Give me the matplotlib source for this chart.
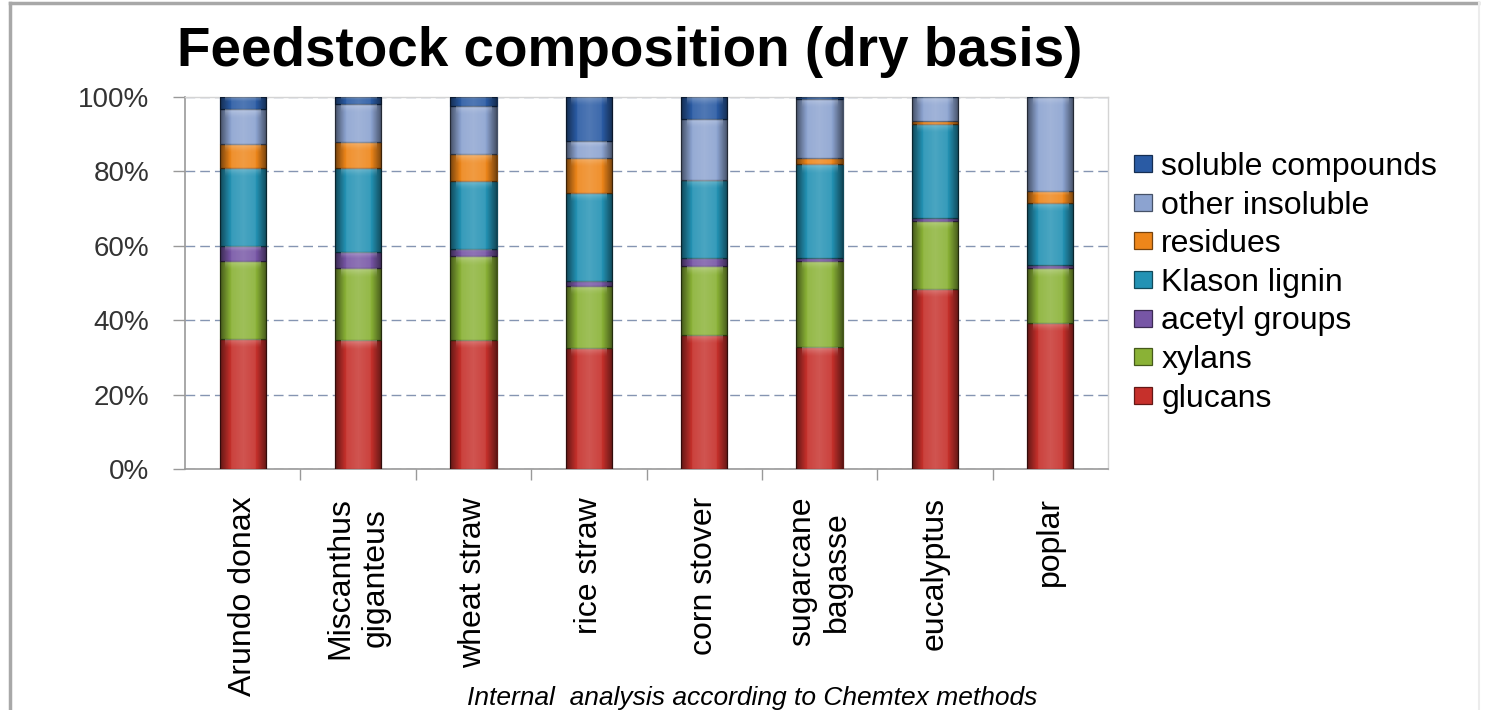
import matplotlib.pyplot as plt
import numpy as np
from matplotlib.lines import Line2D

plt.rcParams['font.family'] = ['Liberation Sans', 'DejaVu Sans']

# feedstocks
feedstocks = ['Arundo donax', 'Miscanthus\ngiganteus', 'wheat straw', 'rice straw',
              'corn stover', 'sugarcane\nbagasse', 'eucalyptus', 'poplar']

# composition, % dry basis (bottom to top)
glucans = [35.0, 34.6, 34.8, 32.5, 36.1, 32.7, 48.4, 39.3]
xylans = [21.0, 19.3, 22.4, 16.8, 18.4, 23.2, 18.3, 14.6]
acetyl_groups = [4.0, 4.4, 2.0, 1.2, 2.3, 0.9, 0.9, 0.9]
klason_lignin = [21.0, 22.6, 18.2, 23.8, 20.9, 25.1, 25.1, 16.8]
residues = [6.4, 7.1, 7.2, 9.4, 0.0, 1.8, 0.9, 3.2]
other_insoluble = [9.3, 10.1, 13.1, 4.5, 16.5, 15.8, 6.4, 25.2]
soluble_compounds = [3.3, 1.9, 2.3, 11.8, 5.8, 0.4, 0.0, 0.0]

series = [
    ('glucans', glucans, '#C6302B'),
    ('xylans', xylans, '#8AB236'),
    ('acetyl groups', acetyl_groups, '#7756A6'),
    ('Klason lignin', klason_lignin, '#2392B4'),
    ('residues', residues, '#EE861A'),
    ('other insoluble', other_insoluble, '#8CA3D0'),
    ('soluble compounds', soluble_compounds, '#2A5BA4'),
]

fig = plt.figure(figsize=(14.85, 7.1), dpi=100)
ax = fig.add_axes([185 / 1485, 1 - 469 / 710, 923 / 1485, 372 / 710])

x = np.arange(len(feedstocks))
width = 0.4
bottom = np.zeros(len(feedstocks))

# horizontal shading for the bevelled look
t = np.linspace(0, 1, 64)
d = np.abs(2 * t - 1)
shade = np.zeros((1, len(t), 4))
dark = np.clip((d - 0.55) / 0.45, 0, 1) * 0.5
light = (1 - d) * 0.18
shade[0, :, :3] = np.where(dark[:, None] > 0, 0.0, 1.0)
shade[0, :, 3] = np.where(dark > 0, dark, light)

# light band along the top of each segment
gloss = np.ones((32, 1, 4))
gloss[:, 0, 3] = np.linspace(0.45, 0.0, 32) ** 1.5

handles = []
for name, vals, color in series:
    vals = np.array(vals)
    edge = tuple(c * 0.5 for c in plt.matplotlib.colors.to_rgb(color))
    bars = ax.bar(x, vals, width, bottom=bottom, color=color, edgecolor=edge,
                  linewidth=0.9, zorder=3, label=name)
    for b in bars:
        h = b.get_height()
        if h <= 0:
            continue
        x0, y0, w = b.get_x(), b.get_y(), b.get_width()
        im = ax.imshow(shade, extent=[x0, x0 + w, y0, y0 + h],
                       aspect='auto', zorder=4, interpolation='bilinear')
        im.set_clip_path(b)
        gh = min(2.5, 0.4 * h)
        g = ax.imshow(gloss, extent=[x0 + 0.12 * w, x0 + 0.88 * w, y0 + h - gh, y0 + h],
                      aspect='auto', zorder=5, interpolation='bilinear', origin='upper')
        g.set_clip_path(b)
    bottom += vals
    handles.append(bars)

ax.set_xlim(-0.5, len(feedstocks) - 0.5)
ax.set_ylim(0, 100)
ax.set_yticks([0, 20, 40, 60, 80, 100])
ax.set_yticklabels([f'{v}%' for v in range(0, 101, 20)])
ax.set_xticks(x)
ax.set_xticklabels(feedstocks, rotation=90, fontsize=23, multialignment='center',
                   linespacing=1.25)
ax.set_xticks(np.arange(0.5, len(feedstocks) - 0.5, 1), minor=True)

ax.tick_params(axis='x', which='major', length=0, pad=20)
ax.tick_params(axis='x', which='minor', length=8, width=1, color='#999999')
ax.tick_params(axis='y', length=9, width=1, color='#999999', pad=16.5,
               labelsize=20, labelcolor='#333333')

for s in ['top', 'right']:
    ax.spines[s].set_color('#d4d4d4')
    ax.spines[s].set_linewidth(1)
for s in ['left', 'bottom']:
    ax.spines[s].set_color('#999999')
    ax.spines[s].set_linewidth(1.2)

ax.yaxis.grid(True, linestyle=(0, (7, 3.6)), color='#8595b2', linewidth=1, zorder=0)
ax.set_axisbelow(True)

# legend, top entry first
leg = ax.legend(handles[::-1], [s[0] for s in series[::-1]],
                loc='upper left', bbox_to_anchor=(1134 / 1485, 1 - 152 / 710),
                bbox_transform=fig.transFigure, frameon=False, fontsize=23,
                handlelength=0.55, handleheight=0.45, handletextpad=0.3,
                labelspacing=0.27, borderpad=0, borderaxespad=0)

fig.text(630 / 1485, 1 - 66 / 710, 'Feedstock composition (dry basis)',
         ha='center', va='baseline', fontsize=39.5, fontweight='bold')
fig.text(752 / 1485, 1 - 705 / 710, 'Internal  analysis according to Chemtex methods',
         ha='center', va='baseline', fontsize=19, style='italic')

# outer frame
fig.add_artist(Line2D([10 / 1485, 10 / 1485], [0, 1 - 3 / 710], transform=fig.transFigure,
                      color='#a8a8a8', linewidth=2.5))
fig.add_artist(Line2D([10 / 1485, 1478 / 1485], [1 - 3 / 710, 1 - 3 / 710],
                      transform=fig.transFigure, color='#a8a8a8', linewidth=2.5))
fig.add_artist(Line2D([1479 / 1485, 1479 / 1485], [0, 1 - 3 / 710], transform=fig.transFigure,
                      color='#ececec', linewidth=1.5))

fig.savefig('out.png', dpi=100)
